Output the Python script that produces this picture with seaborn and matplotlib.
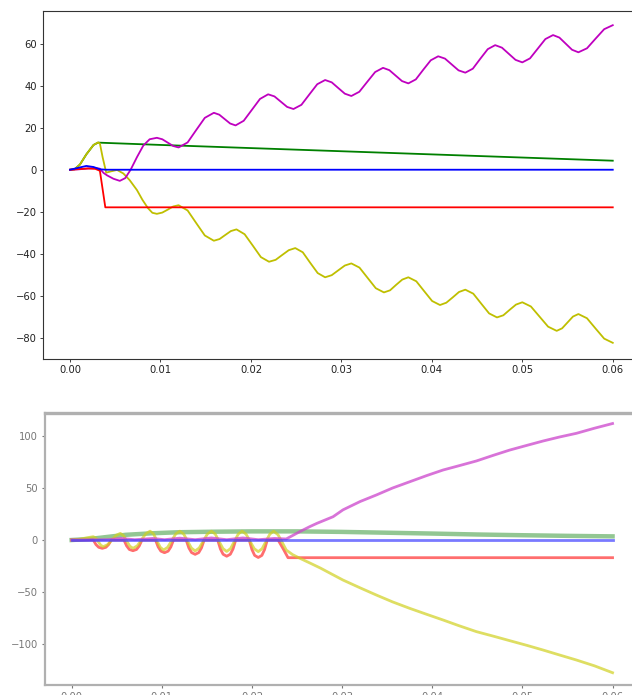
import numpy as np
import pandas as pd
import matplotlib
matplotlib.use("Agg")
import matplotlib.pyplot as plt
import seaborn as sns

# ---- top panel: (t, value) ----
top_magenta = [(0, 0), (0.001, 0.2), (0.002, 0.6), (0.0028, 0.8), (0.0033, 0.5), (0.0037, -1.5),
               (0.0041, -2.7), (0.0048, -4.3), (0.0055, -5.3), (0.0061, -4.0), (0.0067, 0.0),
               (0.0074, 6.0), (0.0081, 11.5), (0.0088, 14.5), (0.0096, 15.2), (0.0102, 14.5),
               (0.0108, 12.9), (0.0114, 11.3), (0.012, 10.6), (0.013, 13.0), (0.01395, 18.9),
               (0.0149, 24.7), (0.0159, 27.1), (0.0165, 26.2), (0.0171, 24.1), (0.0177, 22.0),
               (0.0183, 21.1), (0.0192, 23.3), (0.0201, 28.5), (0.021, 33.7), (0.0219, 35.9),
               (0.0226, 34.9), (0.0233, 32.4), (0.024, 29.9), (0.0247, 28.9), (0.02558, 30.9),
               (0.02645, 35.8), (0.02733, 40.7), (0.0282, 42.7), (0.02893, 41.6), (0.02965, 38.9),
               (0.03038, 36.2), (0.0311, 35.1), (0.03198, 37.1), (0.03285, 41.8), (0.03373, 46.5),
               (0.0346, 48.5), (0.0353, 47.4), (0.036, 44.8), (0.0367, 42.2), (0.0374, 41.1),
               (0.03823, 43.0), (0.03905, 47.6), (0.03988, 52.1), (0.0407, 54.0), (0.04145, 52.9),
               (0.0422, 50.1), (0.04295, 47.3), (0.0437, 46.2), (0.04453, 48.1), (0.04535, 52.8),
               (0.04618, 57.4), (0.047, 59.3), (0.04775, 58.1), (0.0485, 55.2), (0.04925, 52.3),
               (0.05, 51.1), (0.05085, 53.0), (0.0517, 57.6), (0.05255, 62.2), (0.0534, 64.1),
               (0.0541, 62.9), (0.0548, 60.0), (0.0555, 57.1), (0.0562, 55.9), (0.05715, 57.8),
               (0.0581, 62.4), (0.05905, 66.9), (0.06, 68.8)]

top_yellow = [(0, 0), (0.0005, 0.2), (0.0011, 2.5), (0.0018, 7.3), (0.0026, 11.8), (0.0031, 13.0),
              (0.0033, 12.5), (0.0036, 6.0), (0.0040, -1.4), (0.0045, -0.8), (0.0052, -0.1),
              (0.0059, -1.8), (0.0066, -5.0), (0.0074, -9.7), (0.0080, -14.3), (0.0086, -18.2),
              (0.0091, -20.5), (0.0096, -21.0), (0.0102, -20.4), (0.0108, -19.0), (0.0114, -17.5),
              (0.012, -16.9), (0.013, -19.4), (0.01395, -25.4), (0.0149, -31.3), (0.0159, -33.8),
              (0.01653, -33.0), (0.01715, -31.1), (0.01778, -29.2), (0.0184, -28.4), (0.0193, -30.7),
              (0.0202, -36.1), (0.0211, -41.6), (0.022, -43.8), (0.02273, -42.9), (0.02345, -40.6),
              (0.02418, -38.3), (0.0249, -37.3), (0.02573, -39.3), (0.02655, -44.3), (0.02738, -49.2),
              (0.0282, -51.2), (0.02893, -50.2), (0.02965, -47.9), (0.03038, -45.6), (0.0311, -44.6),
              (0.032, -46.6), (0.0329, -51.5), (0.0338, -56.4), (0.0347, -58.4), (0.03538, -57.4),
              (0.03605, -54.8), (0.03673, -52.3), (0.0374, -51.2), (0.03828, -53.1), (0.03915, -57.8),
              (0.04003, -62.5), (0.0409, -64.4), (0.0416, -63.3), (0.0423, -60.8), (0.043, -58.2),
              (0.0437, -57.1), (0.04458, -59.0), (0.04545, -63.7), (0.04633, -68.4), (0.0472, -70.3),
              (0.0479, -69.3), (0.0486, -66.7), (0.0493, -64.2), (0.05, -63.1), (0.05095, -65.1),
              (0.0519, -69.9), (0.05285, -74.7), (0.0538, -76.7), (0.0544, -75.5), (0.055, -72.7),
              (0.0556, -69.9), (0.0562, -68.7), (0.05715, -70.7), (0.0581, -75.6), (0.05905, -80.4),
              (0.06, -82.4)]

top_green = [(0, 0), (0.0005, 0.2), (0.0011, 2.5), (0.0018, 7.3), (0.0026, 11.8), (0.0031, 12.9),
             (0.01, 11.8), (0.02, 10.3), (0.03, 8.8), (0.04, 7.3), (0.05, 5.8), (0.06, 4.3)]

top_blue = [(0, 0), (0.0008, 0.8), (0.0018, 1.8), (0.0026, 1.3), (0.0033, 0.2), (0.004, 0), (0.06, 0)]

top_red = [(0, 0), (0.001, 0.3), (0.002, 0.6), (0.0028, 0.4), (0.0033, -0.5), (0.0039, -17.9),
           (0.06, -17.9)]

# ---- bottom panel ----
bot_red = [(0, 0),
           (0.0024, 0), (0.0027, -4.4), (0.003, -7.0), (0.0034, -8.0), (0.0038, -7.0), (0.0041, -4.4), (0.0044, 0),
           (0.0058, 0), (0.0061, -5.7), (0.0064, -9.1), (0.0068, -10.3), (0.0072, -9.1), (0.0075, -5.7), (0.0078, 0),
           (0.0093, 0), (0.0096, -6.7), (0.0099, -10.7), (0.0103, -12.2), (0.0107, -10.7), (0.011, -6.7), (0.0113, 0),
           (0.0127, 0), (0.013, -7.6), (0.0133, -12.1), (0.0137, -13.8), (0.0141, -12.1), (0.0144, -7.6), (0.0147, 0),
           (0.0162, 0), (0.0165, -8.6), (0.0168, -13.7), (0.0172, -15.6), (0.0176, -13.7), (0.0179, -8.6), (0.0182, 0),
           (0.0197, 0), (0.02, -9.2), (0.0203, -14.8), (0.0207, -16.8), (0.0211, -14.8), (0.0214, -9.2), (0.0217, 0),
           (0.0229, 0), (0.0235, -9.0), (0.024, -17.0), (0.06, -17.0)]

bot_yellow = [(0, 0), (0.0008, 0.6), (0.0016, 2.0), (0.0024, 3.2), (0.00268, 1.8), (0.00295, -1.6),
              (0.00323, -5.0), (0.0035, -6.4), (0.00398, -4.5), (0.00445, 0), (0.00493, 4.5),
              (0.0054, 6.4), (0.00575, 4.3), (0.0061, -0.8), (0.00645, -5.9), (0.0068, -8.0),
              (0.00728, -5.6), (0.00775, 0.3), (0.00823, 6.1), (0.0087, 8.5), (0.00908, 5.9),
              (0.00945, -0.6), (0.00983, -7.0), (0.0102, -9.6), (0.01065, -7.0), (0.0111, -0.6),
              (0.01155, 5.9), (0.012, 8.5), (0.01243, 5.7), (0.01285, -1.0), (0.01328, -7.7),
              (0.0137, -10.5), (0.01415, -7.7), (0.0146, -1.0), (0.01505, 5.7), (0.0155, 8.5),
              (0.01593, 5.7), (0.01635, -1.3), (0.01678, -8.2), (0.0172, -11.0), (0.01763, -8.2),
              (0.01805, -1.3), (0.01848, 5.7), (0.0189, 8.5), (0.01935, 5.6), (0.0198, -1.4),
              (0.02025, -8.3), (0.0207, -11.2), (0.02113, -8.3), (0.02155, -1.4), (0.02198, 5.6),
              (0.0224, 8.5), (0.0229, 5.0), (0.0234, -3.0), (0.0238, -9.6), (0.0245, -14.0),
              (0.0253, -17.5), (0.0264, -22.0), (0.0276, -27.0), (0.0289, -33.0), (0.0301, -38.5),
              (0.032, -46.0), (0.0338, -52.9), (0.0356, -59.5), (0.0375, -65.7), (0.0394, -71.5),
              (0.0412, -76.9), (0.043, -82.5), (0.0449, -88.1), (0.0468, -92.5), (0.0486, -96.8),
              (0.0505, -101.3), (0.0523, -105.8), (0.0541, -110.5), (0.056, -115.4), (0.058, -121.0),
              (0.06, -127.6)]

bot_magenta = [(0, 0), (0.004, 0.3), (0.0055, 1.5), (0.007, 0.3), (0.009, 1.5), (0.0103, 0.3),
               (0.012, 1.8), (0.0137, 0.3), (0.0155, 2.0), (0.0172, 0.3), (0.019, 2.0), (0.0207, 0.3),
               (0.0225, 1.5), (0.0238, 1.0), (0.0253, 8.0), (0.0264, 12.8), (0.0272, 16.0),
               (0.029, 22.4), (0.0301, 29.0), (0.032, 37.0), (0.0338, 43.3), (0.0356, 50.0),
               (0.0375, 56.0), (0.0394, 62.0), (0.0412, 67.3), (0.043, 71.5), (0.0449, 76.0),
               (0.0468, 81.5), (0.0486, 86.5), (0.0505, 91.0), (0.0523, 95.2), (0.0541, 99.0),
               (0.056, 102.6), (0.058, 107.5), (0.06, 112.0)]

bot_green = [(0, 0), (0.002, 1.0), (0.004, 3.0), (0.006, 5.0), (0.009, 6.5), (0.012, 7.5),
             (0.016, 8.0), (0.02, 8.3), (0.025, 8.3), (0.03, 7.8), (0.035, 7.0), (0.04, 6.2),
             (0.045, 5.3), (0.05, 4.6), (0.055, 4.0), (0.06, 3.5)]

bot_blue = [(0, 0), (0.06, 0)]

x_ticks = [0.00, 0.01, 0.02, 0.03, 0.04, 0.05, 0.06]
top_yticks = [-80, -60, -40, -20, 0, 20, 40, 60]
bot_yticks = [-100, -50, 0, 50, 100]

W, H = 632, 695
fig = plt.figure(figsize=(W / 100, H / 100), dpi=100)

ax1 = fig.add_axes([42.9 / W, 1 - 359 / H, 597 / W, 348.3 / H])
ax2 = fig.add_axes([44.6 / W, 1 - 685 / H, 595 / W, 272.3 / H])


def draw(ax, series, color, lw, alpha=1.0):
    df = pd.DataFrame(series, columns=["t", "v"])
    sns.lineplot(data=df, x="t", y="v", color=color, linewidth=lw, alpha=alpha,
                 sort=False, estimator=None, ax=ax)


# top panel
draw(ax1, top_green, "g", 1.3)
draw(ax1, top_yellow, "y", 1.3)
draw(ax1, top_magenta, "m", 1.3)
draw(ax1, top_red, "r", 1.3)
draw(ax1, top_blue, "b", 1.3)
ax1.set_xlim(-0.003, 0.063)
ax1.set_ylim(-90.1, 75.7)
ax1.set_xticks(x_ticks)
ax1.set_xticklabels([f"{x:.2f}" for x in x_ticks])
ax1.set_yticks(top_yticks)
ax1.set_yticklabels([str(v).replace("-", "\u2212") for v in top_yticks])
ax1.tick_params(labelsize=7.2, length=2.5, width=0.6, colors="#222222", pad=2)
ax1.set_xlabel("")
ax1.set_ylabel("")
for s in ax1.spines.values():
    s.set_color("#333333")
    s.set_linewidth(0.8)

# bottom panel (blurry screenshot look)
draw(ax2, bot_green, "#3a9a3a", 3.2, 0.55)
draw(ax2, bot_red, "#ff3030", 2.0, 0.7)
draw(ax2, bot_yellow, "#d0d020", 2.0, 0.7)
draw(ax2, bot_magenta, "#cc44cc", 2.0, 0.75)
draw(ax2, bot_blue, "#4040ff", 2.0, 0.7)
ax2.set_xlim(-0.003, 0.063)
ax2.set_ylim(-139.4, 122.4)
ax2.set_xticks(x_ticks)
ax2.set_xticklabels([f"{x:.2f}" for x in x_ticks])
ax2.set_yticks(bot_yticks)
ax2.set_yticklabels([str(v).replace("-", "\u2212") for v in bot_yticks])
ax2.tick_params(labelsize=7.2, length=2.5, width=0.8, colors="#777777", pad=2.5)
ax2.set_xlabel("")
ax2.set_ylabel("")
for name, s in ax2.spines.items():
    s.set_color("#b0b0b0")
    s.set_linewidth(2.4 if name == "top" else 1.6)

fig.savefig("out.png", dpi=100)
